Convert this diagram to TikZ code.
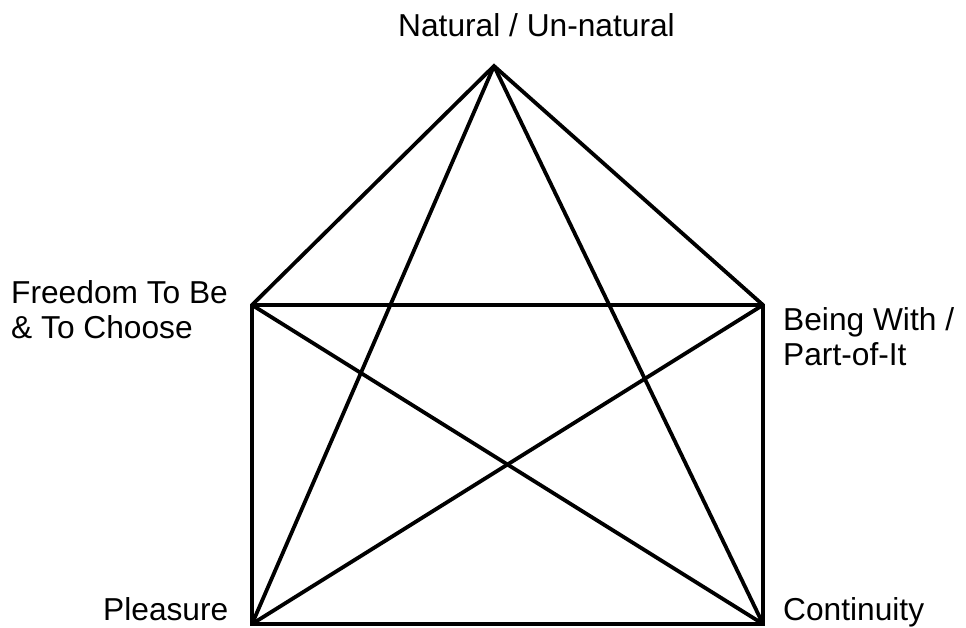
\documentclass[tikz,border=0pt]{standalone}
\usepackage{fontspec}
\setmainfont{Liberation Sans}
\begin{document}
\begin{tikzpicture}[x=1pt,y=-1pt,
  edge/.style={line width=3.8pt,black,line join=miter},
  lbl/.style={inner sep=0pt,anchor=base west,font=\fontsize{31.7}{35}\selectfont}]
\useasboundingbox (0,0) rectangle (966,628);
\coordinate (A) at (494,66);
\coordinate (L) at (252,305);
\coordinate (R) at (763,305);
\coordinate (BL) at (252,624);
\coordinate (BR) at (763,624);
\draw[edge] (L) -- (A) -- (R) -- (BR) -- (BL) -- cycle;
\draw[edge] (L) -- (R);
\draw[edge] (A) -- (BL);
\draw[edge] (A) -- (BR);
\draw[edge] (L) -- (BR);
\draw[edge] (R) -- (BL);
\node[lbl] (tN) at (398,37) {Natural / Un-natural};
\node[lbl] (tF1) at (11,303) {Freedom To Be};
\node[lbl] (tF2) at (11,338) {\& To Choose};
\node[lbl] (tB1) at (783,330) {Being With /};
\node[lbl] (tB2) at (783,365) {Part-of-It};
\node[lbl] (tP) at (103,620) {Pleasure};
\node[lbl] (tC) at (783,620) {Continuity};
\end{tikzpicture}
\end{document}
